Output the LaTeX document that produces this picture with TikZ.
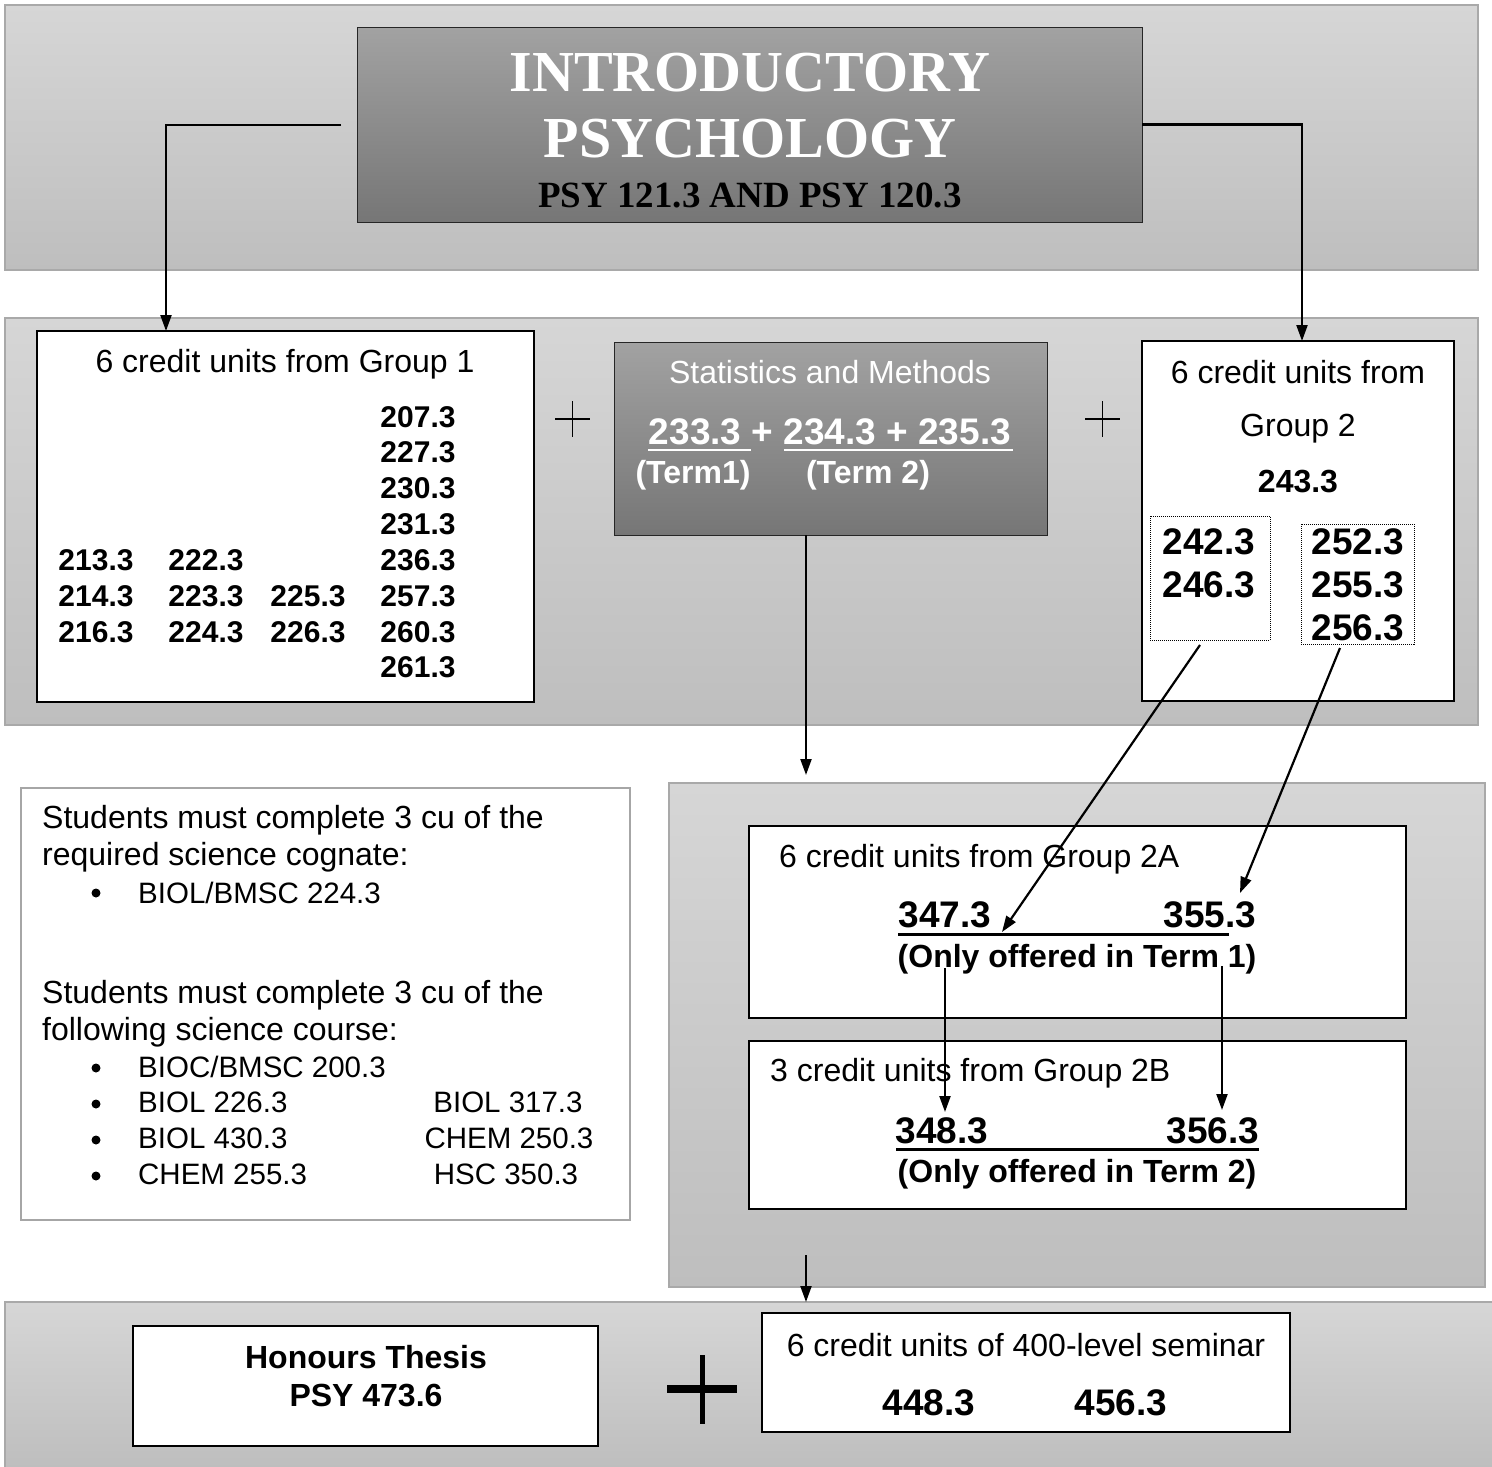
\documentclass[tikz,border=0pt]{standalone}
\usepackage{fontspec}
\setmainfont{Liberation Sans}
\newfontfamily\titlefont{Liberation Serif}
\usetikzlibrary{arrows.meta}
\definecolor{bandtop}{HTML}{D6D6D6}
\definecolor{bandbot}{HTML}{BEBEBE}
\definecolor{bandline}{HTML}{A9A9A9}
\definecolor{darktop}{HTML}{A2A2A2}
\definecolor{darkbot}{HTML}{767676}
\begin{document}
\begin{tikzpicture}[x=1pt,y=-1pt,
 band/.style={draw=bandline, line width=1.5pt, top color=bandtop, bottom color=bandbot, anchor=north west, inner sep=0pt, outer sep=0pt},
 darkbox/.style={draw=black!85, line width=1pt, top color=darktop, bottom color=darkbot, anchor=north west, inner sep=0pt, outer sep=0pt},
 wbox/.style={draw=black, line width=2pt, fill=white, anchor=north west, inner sep=0pt, outer sep=0pt},
 graybox/.style={draw=black!35, line width=1.5pt, fill=white, anchor=north west, inner sep=0pt, outer sep=0pt},
 dotbox/.style={draw=black, line width=1pt, dash pattern=on 1pt off 1pt, anchor=north west, inner sep=0pt, outer sep=0pt},
 arr/.style={line width=2.2pt, -{Triangle[length=16pt,width=11pt]}},
 reg/.style={inner sep=0pt, font=\fontsize{32}{37}\selectfont},
 item/.style={inner sep=0pt, font=\fontsize{29.5}{35}\selectfont},
 bul/.style={circle, fill=black, inner sep=0pt, minimum size=9pt},
 bnum/.style={inner sep=0pt, font=\bfseries\fontsize{30}{36}\selectfont},
 bmid/.style={inner sep=0pt, font=\bfseries\fontsize{32}{37}\selectfont},
 bbig/.style={inner sep=0pt, font=\bfseries\fontsize{37}{42}\selectfont},
 ttl/.style={inner sep=0pt, text=white, font=\titlefont\bfseries\fontsize{58}{62}\selectfont},
 ttlsub/.style={inner sep=0pt, font=\titlefont\bfseries\fontsize{37}{40}\selectfont},
]
\useasboundingbox (0,0) rectangle (1492,1467);

% ---------- bands ----------
\node[band, minimum width=1473pt, minimum height=265pt] (band1) at (5,5) {};
\node[band, minimum width=1473pt, minimum height=407pt] (band2) at (5,318) {};
\node[band, minimum width=816pt, minimum height=504pt] (band3) at (669,783) {};
\node[band, minimum width=1490pt, minimum height=166pt] (band4) at (5,1302) {};

% ---------- title ----------
\node[darkbox, minimum width=785pt, minimum height=195pt] (title) at (357,27) {};
\node[ttl] (ttl1) at (750,73) {INTRODUCTORY};
\node[ttl] (ttl2) at (750,139) {PSYCHOLOGY};
\node[ttlsub] (ttl3) at (750,195) {PSY 121.3 AND PSY 120.3};

% ---------- group 1 ----------
\node[wbox, minimum width=497pt, minimum height=371pt] (g1) at (37,331) {};
\node[reg] (g1h) at (285,364) {6 credit units from Group 1};
\node[bnum] (c4a) at (418,417) {207.3};
\node[bnum] (c4b) at (418,452) {227.3};
\node[bnum] (c4c) at (418,488) {230.3};
\node[bnum] (c4d) at (418,524) {231.3};
\node[bnum] (c4e) at (418,560) {236.3};
\node[bnum] (c4f) at (418,596) {257.3};
\node[bnum] (c4g) at (418,632) {260.3};
\node[bnum] (c4h) at (418,667) {261.3};
\node[bnum] (c1a) at (96,560) {213.3};
\node[bnum] (c1b) at (96,596) {214.3};
\node[bnum] (c1c) at (96,632) {216.3};
\node[bnum] (c2a) at (206,560) {222.3};
\node[bnum] (c2b) at (206,596) {223.3};
\node[bnum] (c2c) at (206,632) {224.3};
\node[bnum] (c3b) at (308,596) {225.3};
\node[bnum] (c3c) at (308,632) {226.3};

% plus signs
\draw[line width=1.5pt] (555,419) -- (590,419) (572.5,401) -- (572.5,437);
\draw[line width=1.5pt] (1085,419) -- (1120,419) (1102.5,401) -- (1102.5,437);

% ---------- statistics ----------
\node[darkbox, minimum width=433pt, minimum height=193pt] (stats) at (614,342) {};
\node[reg, text=white] (sth) at (830,372) {Statistics and Methods};
\node[bbig, text=white] (stn) at (830,432) {233.3 + 234.3 + 235.3};
\draw[white, line width=2.5pt] (648,450) -- (751,450) (784,450) -- (1013,450);
\node[bmid, text=white] (st1) at (693,475) {(Term1)};
\node[bmid, text=white] (st2) at (868,475) {(Term 2)};

% ---------- group 2 ----------
\node[wbox, minimum width=312pt, minimum height=360pt] (g2) at (1142,341) {};
\node[reg] (g2h1) at (1298,372) {6 credit units from};
\node[reg] (g2h2) at (1298,429) {Group 2};
\node[bmid] (g2n) at (1298,482) {243.3};
\node[dotbox, minimum width=120pt, minimum height=124pt] (d1) at (1150,516) {};
\node[dotbox, minimum width=113pt, minimum height=120pt] (d2) at (1301,524) {};
\node[bbig] (d1a) at (1209,542) {242.3};
\node[bbig] (d1b) at (1209,585) {246.3};
\node[bbig] (d2a) at (1358,542) {252.3};
\node[bbig] (d2b) at (1358,585) {255.3};
\node[bbig] (d2c) at (1358,628) {256.3};

% ---------- left science box ----------
\node[graybox, minimum width=609pt, minimum height=432pt] (sci) at (21,788) {};
\node[reg, anchor=west] (s1) at (42,820) {Students must complete 3 cu of the};
\node[reg, anchor=west] (s2) at (42,857) {required science cognate:};
\node[bul] (s3b) at (96,893) {};
\node[item, anchor=west] (s3) at (138,893) {BIOL/BMSC 224.3};
\node[reg, anchor=west] (s4) at (42,995) {Students must complete 3 cu of the};
\node[reg, anchor=west] (s5) at (42,1032) {following science course:};
\node[bul] (s6b) at (96,1068) {};
\node[item, anchor=west] (s6) at (138,1067) {BIOC/BMSC 200.3};
\node[bul] (s7b) at (96,1104) {};
\node[item, anchor=west] (s7) at (138,1102) {BIOL 226.3};
\node[item] (s7r) at (508,1102) {BIOL 317.3};
\node[bul] (s8b) at (96,1140) {};
\node[item, anchor=west] (s8) at (138,1138) {BIOL 430.3};
\node[item] (s8r) at (509,1138) {CHEM 250.3};
\node[bul] (s9b) at (96,1176) {};
\node[item, anchor=west] (s9) at (138,1174) {CHEM 255.3};
\node[item] (s9r) at (506,1174) {HSC 350.3};

% ---------- group 2A / 2B ----------
\node[wbox, minimum width=657pt, minimum height=192pt] (g2a) at (749,826) {};
\node[reg, anchor=west] (g2ah) at (779,859) {6 credit units from Group 2A};
\node[bbig] (n347) at (945,915) {347.3};
\node[bbig] (n355) at (1210,915) {355.3};
\draw[line width=3pt] (898,934) -- (1229,934);
\node[bmid] (t1) at (1077,959) {(Only offered in Term 1)};

\node[wbox, minimum width=657pt, minimum height=168pt] (g2b) at (749,1041) {};
\node[reg, anchor=west] (g2bh) at (770,1073) {3 credit units from Group 2B};
\node[bbig] (n348) at (942,1131) {348.3};
\node[bbig] (n356) at (1213,1131) {356.3};
\draw[line width=3pt] (896,1149) -- (1259,1149);
\node[bmid] (t2) at (1077,1174) {(Only offered in Term 2)};

% ---------- bottom ----------
\node[wbox, minimum width=465pt, minimum height=120pt] (thesis) at (133,1326) {};
\node[bmid] (th1) at (366,1357) {Honours Thesis};
\node[bmid] (th2) at (366,1395) {PSY 473.6};
\draw[line width=8pt] (667,1389) -- (737,1389);
\draw[line width=5pt] (702,1355) -- (702,1424);
\node[wbox, minimum width=528pt, minimum height=119pt] (sem) at (762,1313) {};
\node[reg] (semh) at (1026,1345) {6 credit units of 400-level seminar};
\node[bbig] (n448) at (929,1403) {448.3};
\node[bbig] (n456) at (1121,1403) {456.3};

% ---------- connectors ----------
\coordinate (tl) at (341,125);
\coordinate (g1in) at (166,331);
\draw[arr] (tl) -| (g1in);
\draw[arr] (title.east) -| (1302,341) coordinate (g2in);
\coordinate (stout) at (806,535);
\coordinate (b3in) at (806,775);
\draw[arr] (stout) -- (b3in);
\coordinate (d1out) at (1200,645);
\coordinate (to347) at (1002,932);
\draw[arr] (d1out) -- (to347);
\coordinate (d2out) at (1340,648);
\coordinate (to355) at (1240,893);
\draw[arr] (d2out) -- (to355);
\coordinate (from347) at (945,968);
\coordinate (to348) at (945,1112);
\draw[arr] (from347) -- (to348);
\coordinate (from355) at (1222,966);
\coordinate (to356) at (1222,1110);
\draw[arr] (from355) -- (to356);
\coordinate (b3out) at (806,1255);
\coordinate (b4in) at (806,1302);
\draw[arr] (b3out) -- (b4in);
\end{tikzpicture}
\end{document}
